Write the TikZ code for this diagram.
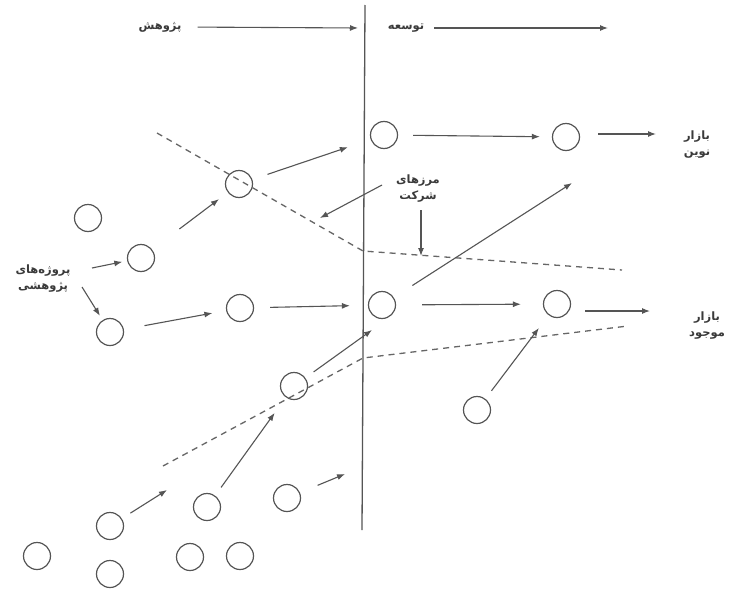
\documentclass[tikz,border=0pt]{standalone}
\usepackage{fontspec}
\newfontfamily\fa[Script=Arabic]{DejaVu Sans}
\TeXXeTstate=1
\usetikzlibrary{arrows.meta}
\definecolor{ink}{HTML}{555555}
\definecolor{txt}{HTML}{3A3A3A}
\tikzset{
  circ/.style={circle, draw=ink, line width=1.2pt, minimum size=27pt, inner sep=0pt},
  arr/.style={draw=ink, line width=1.1pt, -{Latex[length=8pt,width=6pt]}},
  bound/.style={draw=ink!90, line width=1.3pt, dash pattern=on 6pt off 5pt},
  lbl/.style={font=\fa\bfseries\fontsize{11.5}{16}\selectfont, text=txt, align=center, inner sep=0pt}
}
\begin{document}
\begin{tikzpicture}[x=1pt,y=-1pt]
\useasboundingbox[fill=white] (0,0) rectangle (736,589);
% divider
\coordinate (vt) at (365,5);
\coordinate (vb) at (362,530);
\draw[ink, line width=1.3pt] (vt) -- (vb);
% header
\node[lbl] (hR) at (160,27) {\beginR پژوهش\endR};
\node[lbl] (hD) at (406,28) {\beginR توسعه\endR};
\coordinate (hRe) at (358,28);
\coordinate (hDe) at (608,28);
\draw[arr, shorten <=16pt] (hR.east) -- (hRe);
\draw[arr, shorten <=10pt] (hD.east) -- (hDe);
% circles
\node[circ] (c1) at (384,135) {};
\node[circ] (c2) at (566,137) {};
\node[circ] (c3) at (239,184) {};
\node[circ] (c4) at (88,218) {};
\node[circ] (c5) at (141,258) {};
\node[circ] (c6) at (110,332) {};
\node[circ] (c7) at (240,308) {};
\node[circ] (c8) at (382,305) {};
\node[circ] (c9) at (557,304) {};
\node[circ] (c10) at (294,386) {};
\node[circ] (c11) at (477,410) {};
\node[circ] (c12) at (110,526) {};
\node[circ] (c13) at (207,507) {};
\node[circ] (c14) at (287,498) {};
\node[circ] (c15) at (37,556) {};
\node[circ] (c16) at (110,574) {};
\node[circ] (c17) at (190,557) {};
\node[circ] (c18) at (240,556) {};
% labels
\node[lbl] (mN) at (697,145) {\beginR بازار\endR\\\beginR نوین\endR};
\node[lbl] (mE) at (707,326) {\beginR بازار\endR\\\beginR موجود\endR};
\node[lbl] (pr) at (43,279) {\beginR پروژه‌های\endR\\\beginR پژوهشی\endR};
\node[lbl] (bd) at (418,189) {\beginR مرزهای\endR\\\beginR شرکت\endR};
% dashed boundaries
\coordinate (u1) at (157,133);
\coordinate (u2) at (363,251);
\coordinate (u3) at (622,270);
\draw[bound] (u1) -- (u2) -- (u3);
\coordinate (l1) at (163,466);
\coordinate (l2) at (363,358);
\coordinate (l3) at (628,326);
\draw[bound] (l1) -- (l2) -- (l3);
% free ends
\coordinate (sN) at (598,134);
\coordinate (eN) at (656,134);
\coordinate (sE) at (585,311);
\coordinate (eE) at (650,311);
\coordinate (e8) at (572,183);
\coordinate (e10) at (372,330);
\coordinate (e12) at (167,490);
\coordinate (e14) at (345,474);
\coordinate (bs1) at (382,185);
\coordinate (be1) at (320,218);
\coordinate (bs2) at (421,210);
\coordinate (be2) at (421,256);
\coordinate (ps1) at (92,268);
\coordinate (ps2) at (82,287);
% arrows
\draw[arr, shorten <=21pt, shorten >=14pt] (c6) -- (c7);
\draw[arr, shorten <=16pt, shorten >=18pt] (c7) -- (c8);
\draw[arr, shorten <=26pt, shorten >=22pt] (c8) -- (c9);
\draw[arr, shorten <=15pt, shorten >=12pt] (c1) -- (c2);
\draw[arr, shorten <=16pt, shorten >=24pt] (c3) -- (c1);
\draw[arr, shorten <=34pt, shorten >=11pt] (c5) -- (c3);
\draw[arr, shorten <=10pt, shorten >=16pt] (c11) -- (c9);
\draw[arr, shorten <=10pt, shorten >=19pt] (c13) -- (c10);
\draw[arr] (sN) -- (eN);
\draw[arr] (sE) -- (eE);
\draw[arr, shorten <=22pt] (c8) -- (e8);
\draw[arr, shorten <=10pt] (c10) -- (e10);
\draw[arr, shorten <=10pt] (c12) -- (e12);
\draw[arr, shorten <=19pt] (c14) -- (e14);
\draw[arr] (bs1) -- (be1);
\draw[arr] (bs2) -- (be2);
\draw[arr, shorten >=5pt] (ps1) -- (c5);
\draw[arr, shorten >=5pt] (ps2) -- (c6);
\end{tikzpicture}
\end{document}
